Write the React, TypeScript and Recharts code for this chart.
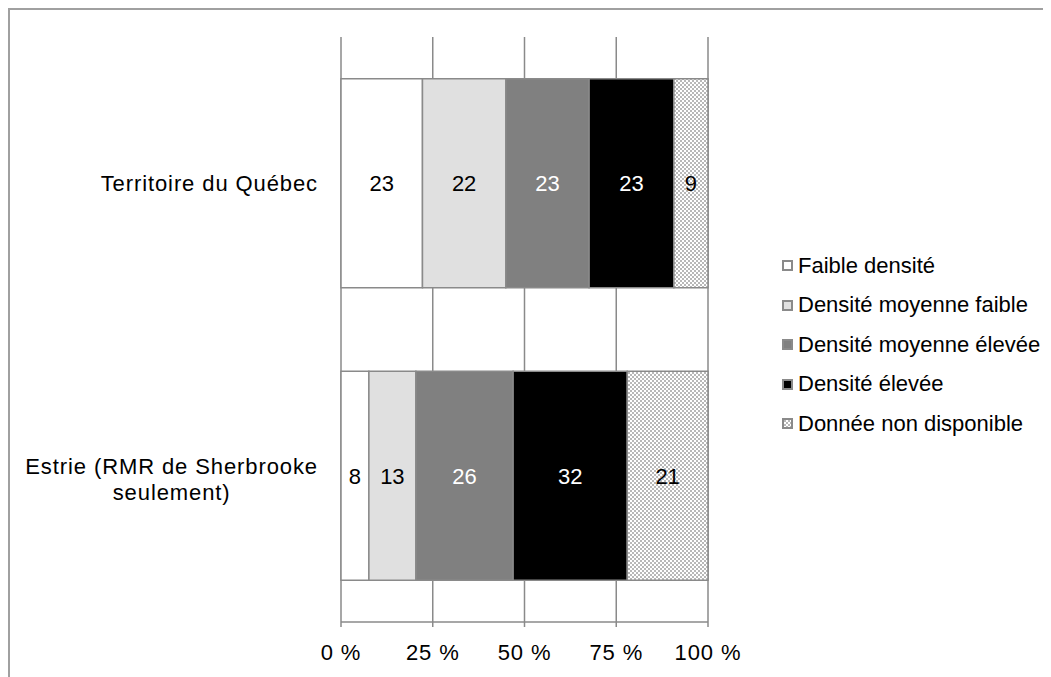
import React from 'react';
import { BarChart, Bar, XAxis, YAxis, CartesianGrid, LabelList, Legend } from 'recharts';

const categories = ['Territoire du Québec', 'Estrie (RMR de Sherbrooke seulement)'];

// parts (%)
const faibleDensite = [22.2, 7.6];
const moyenneFaible = [22.7, 12.8];
const moyenneElevee = [22.7, 26.5];
const densiteElevee = [23.1, 31.1];
const nonDisponible = [9.3, 22.0];

// étiquettes affichées dans les barres
const faibleLabels = [23, 8];
const moyFaibleLabels = [22, 13];
const moyEleveeLabels = [23, 26];
const eleveeLabels = [23, 32];
const nonDispoLabels = [9, 21];

const xTicks = [0, 25, 50, 75, 100];

const FONT = '"Liberation Sans", Arial, sans-serif';
const FS = 22;
const LS = 0.9;
const LINE = '#8a8a8a';

const series = [
  { key: 'faible', name: 'Faible densité', values: faibleDensite, labels: faibleLabels, fill: '#ffffff', text: '#000' },
  { key: 'moyFaible', name: 'Densité moyenne faible', values: moyenneFaible, labels: moyFaibleLabels, fill: '#e0e0e0', text: '#000' },
  { key: 'moyElevee', name: 'Densité moyenne élevée', values: moyenneElevee, labels: moyEleveeLabels, fill: '#808080', text: '#fff' },
  { key: 'elevee', name: 'Densité élevée', values: densiteElevee, labels: eleveeLabels, fill: '#000000', text: '#fff' },
  { key: 'nonDispo', name: 'Donnée non disponible', values: nonDisponible, labels: nonDispoLabels, fill: 'url(#damier)', text: '#000' },
];

const data = categories.map((name, i) => {
  const row: Record<string, string | number> = { name };
  series.forEach(s => {
    row[s.key] = s.values[i];
    row[s.key + 'Lbl'] = s.labels[i];
  });
  return row;
});

const ctx = typeof document !== 'undefined' ? document.createElement('canvas').getContext('2d') : null;
function textWidth(s: string) {
  const extra = s.length * LS;
  if (!ctx) return s.length * FS * 0.5 + extra;
  ctx.font = `${FS}px "Liberation Sans"`;
  return ctx.measureText(s).width + extra;
}

function wrap(text: string, max: number) {
  const words = text.split(' ');
  const lines: string[] = [];
  let cur = '';
  words.forEach(w => {
    const t = cur ? cur + ' ' + w : w;
    if (cur && textWidth(t) > max) {
      lines.push(cur);
      cur = w;
    } else cur = t;
  });
  if (cur) lines.push(cur);
  return lines;
}

function CategoryTick({ x, y, payload }: any) {
  const lines = wrap(payload.value, 305);
  const w = Math.max(...lines.map(textWidth));
  const cx = x - w / 2;
  const lh = 26;
  const y0 = y - ((lines.length - 1) * lh) / 2 + (lines.length - 1) * 4;
  return (
    <text textAnchor="middle" fontSize={FS} fontFamily={FONT} fill="#000" letterSpacing={LS}>
      {lines.map((l, i) => (
        <tspan key={i} x={cx} y={y0 + i * lh} dy="0.35em">{l}</tspan>
      ))}
    </text>
  );
}

function LegendContent({ payload }: any) {
  const items = [...(payload || [])].sort(
    (a: any, b: any) => series.findIndex(s => s.name === a.value) - series.findIndex(s => s.name === b.value)
  );
  return (
    <div style={{ fontFamily: FONT, fontSize: FS, color: '#000' }}>
      {items.map((e: any, i: number) => (
        <div key={i} style={{ height: 39.5, display: 'flex', alignItems: 'center', whiteSpace: 'nowrap' }}>
          <svg width={11} height={11} style={{ marginRight: 5 }}>
            <rect x={1} y={1} width={9} height={9} fill={e.color} stroke={LINE} strokeWidth={2} />
          </svg>
          <span>{e.value}</span>
        </div>
      ))}
    </div>
  );
}

export default function App() {
  return (
    <div style={{ position: 'relative', width: 1043, height: 669, overflow: 'hidden', fontFamily: FONT }}>
      <style>{'html,body{overflow:hidden}'}</style>
      <div style={{ position: 'absolute', left: 0, top: 0, width: 1200, height: 800, borderTop: '2px solid #a0a0a0', borderLeft: '2px solid #a0a0a0' }} />
      <div style={{ position: 'absolute', left: 0, top: 0 }}>
        <BarChart
          width={1043}
          height={669}
          data={data}
          layout="vertical"
          margin={{ top: 29, right: 343, bottom: 25, left: 0 }}
          barCategoryGap="14.3%"
        >
          <defs>
            <pattern id="damier" width={4} height={4} patternUnits="userSpaceOnUse">
              <rect width={4} height={4} fill="#ffffff" />
              <rect width={2} height={2} fill="#b8b8b8" />
              <rect x={2} y={2} width={2} height={2} fill="#b8b8b8" />
            </pattern>
          </defs>
          <CartesianGrid horizontal={false} stroke={LINE} strokeWidth={1.5} yAxisId="c" />
          <XAxis
            type="number"
            domain={[0, 100]}
            ticks={xTicks}
            tickFormatter={(v: number) => `${v} %`}
            height={30}
            tickSize={5}
            tickMargin={17}
            stroke={LINE}
            strokeWidth={1.5}
            tick={{ fill: '#000', fontSize: FS, fontFamily: FONT, letterSpacing: LS }}
            interval={0}
          />
          <YAxis
            yAxisId="b"
            type="number"
            domain={[0, 2]}
            ticks={[0, 1, 2]}
            width={0}
            tickSize={8}
            tickFormatter={() => ''}
            stroke={LINE}
            strokeWidth={1.5}
          />
          <YAxis
            yAxisId="c"
            type="category"
            dataKey="name"
            width={333}
            axisLine={false}
            tickLine={false}
            tickSize={0}
            tickMargin={23}
            tick={<CategoryTick />}
          />
          <Legend
            layout="horizontal"
            align="center"
            verticalAlign="middle"
            content={<LegendContent />}
            wrapperStyle={{ left: 774, top: 238, width: 265 }}
          />
          {series.map(s => (
            <Bar
              key={s.key}
              dataKey={s.key}
              name={s.name}
              stackId="a"
              yAxisId="c"
              fill={s.fill}
              stroke={LINE}
              strokeWidth={1.5}
              isAnimationActive={false}
            >
              <LabelList dataKey={s.key + 'Lbl'} position="center" fill={s.text} fontSize={FS} fontFamily={FONT} />
            </Bar>
          ))}
        </BarChart>
      </div>
    </div>
  );
}
